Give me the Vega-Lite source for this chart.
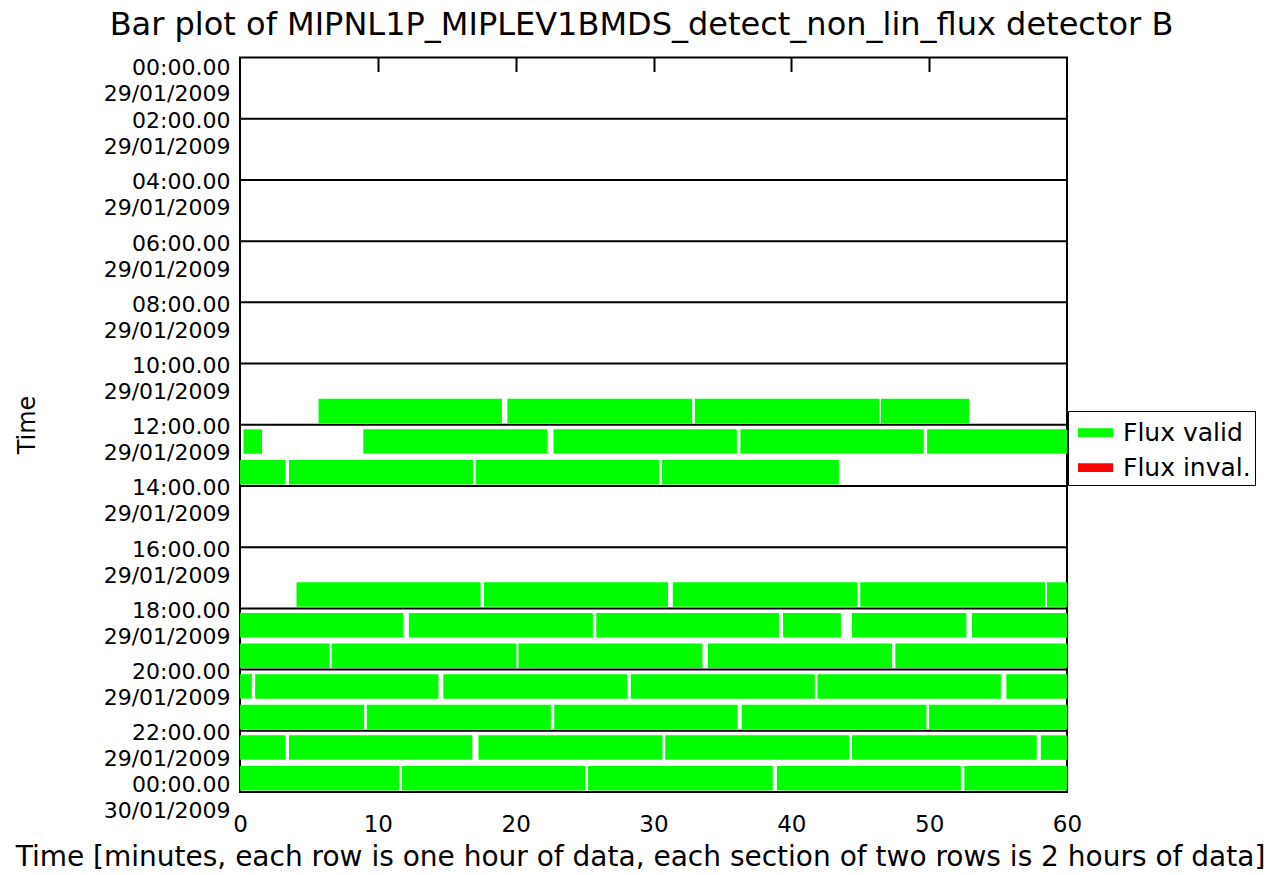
{
  "$schema": "https://vega.github.io/schema/vega-lite/v6.json",
  "autosize": {"type": "none"},
  "padding": {"left": 240, "top": 57.5, "right": 214, "bottom": 83},
  "width": 827,
  "height": 734.5,
  "background": "white",
  "config": {
    "font": "DejaVu Sans",
    "view": {"stroke": "black", "strokeWidth": 2},
    "axis": {"labelColor": "black", "titleColor": "black", "titleFontWeight": "normal", "labelFont": "DejaVu Sans", "titleFont": "DejaVu Sans"},
    "legend": {"labelColor": "black", "labelFont": "DejaVu Sans"}
  },
  "title": {
    "text": "Bar plot of MIPNL1P_MIPLEV1BMDS_detect_non_lin_flux detector B",
    "fontSize": 32,
    "fontWeight": "normal",
    "font": "DejaVu Sans",
    "color": "black",
    "anchor": "middle",
    "frame": "group",
    "offset": 15,
    "dx": -12
  },
  "datasets": {
    "bars": [
      {"hour": 11, "start": 5.7, "end": 19.0, "status": "Flux valid"},
      {"hour": 11, "start": 19.4, "end": 32.8, "status": "Flux valid"},
      {"hour": 11, "start": 33.0, "end": 46.4, "status": "Flux valid"},
      {"hour": 11, "start": 46.5, "end": 52.9, "status": "Flux valid"},
      {"hour": 12, "start": 0.25, "end": 1.6, "status": "Flux valid"},
      {"hour": 12, "start": 8.95, "end": 22.3, "status": "Flux valid"},
      {"hour": 12, "start": 22.75, "end": 36.05, "status": "Flux valid"},
      {"hour": 12, "start": 36.3, "end": 49.6, "status": "Flux valid"},
      {"hour": 12, "start": 49.85, "end": 60, "status": "Flux valid"},
      {"hour": 13, "start": 0, "end": 3.3, "status": "Flux valid"},
      {"hour": 13, "start": 3.55, "end": 16.9, "status": "Flux valid"},
      {"hour": 13, "start": 17.1, "end": 30.4, "status": "Flux valid"},
      {"hour": 13, "start": 30.6, "end": 43.45, "status": "Flux valid"},
      {"hour": 17, "start": 4.1, "end": 17.45, "status": "Flux valid"},
      {"hour": 17, "start": 17.7, "end": 31.05, "status": "Flux valid"},
      {"hour": 17, "start": 31.4, "end": 44.8, "status": "Flux valid"},
      {"hour": 17, "start": 45.0, "end": 58.4, "status": "Flux valid"},
      {"hour": 17, "start": 58.55, "end": 60, "status": "Flux valid"},
      {"hour": 18, "start": 0, "end": 11.85, "status": "Flux valid"},
      {"hour": 18, "start": 12.25, "end": 25.6, "status": "Flux valid"},
      {"hour": 18, "start": 25.85, "end": 39.1, "status": "Flux valid"},
      {"hour": 18, "start": 39.4, "end": 43.6, "status": "Flux valid"},
      {"hour": 18, "start": 44.4, "end": 52.7, "status": "Flux valid"},
      {"hour": 18, "start": 53.1, "end": 60, "status": "Flux valid"},
      {"hour": 19, "start": 0, "end": 6.5, "status": "Flux valid"},
      {"hour": 19, "start": 6.65, "end": 20.05, "status": "Flux valid"},
      {"hour": 19, "start": 20.2, "end": 33.55, "status": "Flux valid"},
      {"hour": 19, "start": 33.95, "end": 47.3, "status": "Flux valid"},
      {"hour": 19, "start": 47.55, "end": 60, "status": "Flux valid"},
      {"hour": 20, "start": 0, "end": 0.85, "status": "Flux valid"},
      {"hour": 20, "start": 1.1, "end": 14.4, "status": "Flux valid"},
      {"hour": 20, "start": 14.75, "end": 28.1, "status": "Flux valid"},
      {"hour": 20, "start": 28.35, "end": 41.7, "status": "Flux valid"},
      {"hour": 20, "start": 41.9, "end": 55.2, "status": "Flux valid"},
      {"hour": 20, "start": 55.6, "end": 60, "status": "Flux valid"},
      {"hour": 21, "start": 0, "end": 9.0, "status": "Flux valid"},
      {"hour": 21, "start": 9.2, "end": 22.55, "status": "Flux valid"},
      {"hour": 21, "start": 22.8, "end": 36.1, "status": "Flux valid"},
      {"hour": 21, "start": 36.4, "end": 49.8, "status": "Flux valid"},
      {"hour": 21, "start": 50.0, "end": 60, "status": "Flux valid"},
      {"hour": 22, "start": 0, "end": 3.3, "status": "Flux valid"},
      {"hour": 22, "start": 3.55, "end": 16.85, "status": "Flux valid"},
      {"hour": 22, "start": 17.3, "end": 30.65, "status": "Flux valid"},
      {"hour": 22, "start": 30.85, "end": 44.2, "status": "Flux valid"},
      {"hour": 22, "start": 44.4, "end": 57.8, "status": "Flux valid"},
      {"hour": 22, "start": 58.1, "end": 60, "status": "Flux valid"},
      {"hour": 23, "start": 0, "end": 11.55, "status": "Flux valid"},
      {"hour": 23, "start": 11.75, "end": 25.05, "status": "Flux valid"},
      {"hour": 23, "start": 25.25, "end": 38.65, "status": "Flux valid"},
      {"hour": 23, "start": 38.95, "end": 52.3, "status": "Flux valid"},
      {"hour": 23, "start": 52.55, "end": 60, "status": "Flux valid"}
    ],
    "sections": [
      {"hour": 2}, {"hour": 4}, {"hour": 6}, {"hour": 8}, {"hour": 10},
      {"hour": 12}, {"hour": 14}, {"hour": 16}, {"hour": 18}, {"hour": 20}, {"hour": 22}
    ]
  },
  "layer": [
    {
      "data": {"name": "bars"},
      "mark": {"type": "bar", "yOffset": 1.5},
      "encoding": {
        "x": {
          "field": "start",
          "type": "quantitative",
          "scale": {"domain": [0, 60], "nice": false, "zero": false},
          "axis": {
            "orient": "bottom",
            "values": [0, 10, 20, 30, 40, 50, 60],
            "ticks": false,
            "domain": false,
            "grid": false,
            "labelFontSize": 23,
            "labelPadding": 21,
            "labelFlush": false,
            "labelOverlap": false,
            "title": "Time [minutes, each row is one hour of data, each section of two rows is 2 hours of data]",
            "titleFontSize": 28,
            "titlePadding": 7,
            "titleX": 400,
            "titleAlign": "center"
          }
        },
        "x2": {"field": "end"},
        "y": {
          "field": "hour",
          "type": "ordinal",
          "scale": {"domain": [0,1,2,3,4,5,6,7,8,9,10,11,12,13,14,15,16,17,18,19,20,21,22,23], "paddingInner": 0.2, "paddingOuter": 0.1},
          "axis": null
        },
        "color": {
          "field": "status",
          "type": "nominal",
          "scale": {"domain": ["Flux valid", "Flux inval."], "range": ["#00ff00", "#ff0000"]},
          "legend": {
            "orient": "none",
            "legendX": 828,
            "legendY": 353.5,
            "title": null,
            "strokeColor": "black",
            "fillColor": "white",
            "padding": 4,
            "symbolOffset": 6,
            "symbolType": "M-1,-0.25H1V0.25H-1Z",
            "symbolSize": 1225,
            "symbolStrokeWidth": 0,
            "labelFontSize": 25,
            "labelOffset": 10,
            "rowPadding": 4
          }
        }
      }
    },
    {
      "data": {"name": "sections"},
      "mark": {"type": "rule", "color": "black", "strokeWidth": 2},
      "encoding": {
        "y": {
          "field": "hour",
          "type": "quantitative",
          "scale": {"domain": [0, 24], "reverse": true, "nice": false, "zero": false},
          "axis": {
            "orient": "left",
            "values": [0, 2, 4, 6, 8, 10, 12, 14, 16, 18, 20, 22, 24],
            "ticks": false,
            "domain": false,
            "grid": false,
            "labelExpr": "[(datum.value == 24 ? '00' : format(datum.value, '02d')) + ':00.00', datum.value == 24 ? '30/01/2009' : '29/01/2009']",
            "labelFontSize": 22,
            "labelLineHeight": 26,
            "labelBaseline": "middle",
            "labelAlign": "right",
            "labelPadding": 10,
            "labelOffset": {"condition": [{"test": "datum.value == 0", "value": 10}, {"test": "datum.value == 24", "value": -8}], "value": 2},
            "labelOverlap": false,
            "labelBound": false,
            "labelFlush": false,
            "title": "Time",
            "titleFontSize": 24,
            "titleX": -213,
            "titleY": 367,
            "titleAngle": -90,
            "titleAlign": "center",
            "titleBaseline": "middle"
          }
        },
        "x": {
          "datum": 0,
          "type": "quantitative",
          "axis": {
            "orient": "top",
            "values": [10, 20, 30, 40, 50],
            "labels": false,
            "domain": false,
            "ticks": true,
            "tickSize": -14,
            "tickColor": "black",
            "tickWidth": 2,
            "grid": false,
            "title": null
          }
        },
        "x2": {"datum": 60}
      }
    }
  ],
  "resolve": {
    "scale": {"y": "independent"},
    "axis": {"x": "independent", "y": "independent"}
  }
}
